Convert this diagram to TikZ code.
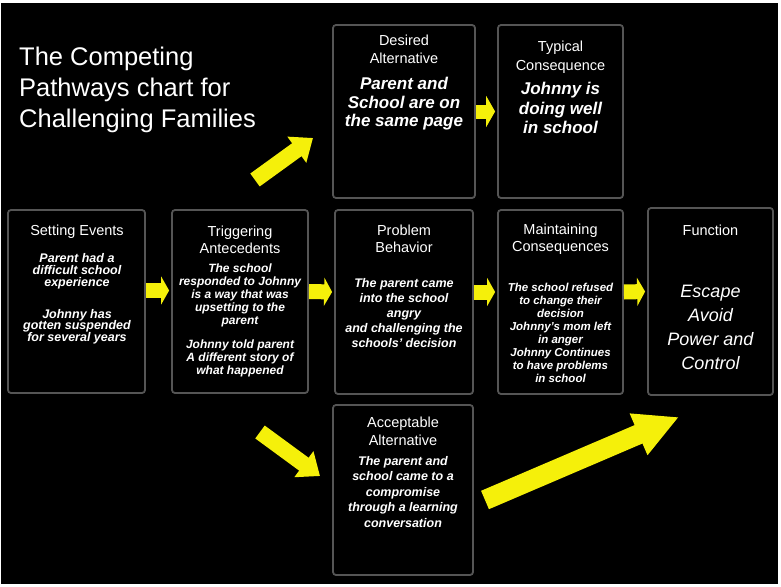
\documentclass[tikz,border=0pt]{standalone}
\usepackage{fontspec}
\setmainfont{Liberation Sans}
\usetikzlibrary{arrows.meta}
\definecolor{boxgray}{RGB}{85,85,85}
\definecolor{arrowyellow}{RGB}{245,240,10}

\begin{document}
\begin{tikzpicture}[x=1pt,y=-1pt,
    box/.style={draw=boxgray, line width=1.8pt, rounded corners=3pt, fill=black, inner sep=0pt},
    head/.style={text=white, align=center, inner sep=0pt, font=\fontsize{14.5}{17}\selectfont},
    body/.style={text=white, align=center, inner sep=0pt, font=\fontsize{12}{13}\selectfont\bfseries\itshape},
    fat/.style={arrowyellow, line width=15pt, -{Triangle[length=8pt,width=28pt]}, shorten >=2pt},
    slant/.style={arrowyellow, line width=16pt, -{Triangle[length=20pt,width=31pt]}}]

    % frame
    \fill[white] (0,0) rectangle (781,586);
    \fill[black] (1,3) rectangle (778,584);

    \node[text=white, align=left, anchor=north west, inner sep=0pt,
          font=\fontsize{25.5}{31}\selectfont] (title) at (19,47)
          {The Competing\\Pathways chart for\\Challenging Families};

    % middle row
    \node[box, minimum width=137pt, minimum height=183pt] (se) at (76.5,301.5) {};
    \node[box, minimum width=136pt, minimum height=183pt] (ta) at (240,301.5) {};
    \node[box, minimum width=138pt, minimum height=184pt] (pb) at (404,302) {};
    \node[box, minimum width=125pt, minimum height=184pt] (mc) at (560.5,302) {};
    \node[box, minimum width=125pt, minimum height=187pt] (fn) at (710.5,301.5) {};

    % top and bottom
    \node[box, minimum width=142pt, minimum height=173pt] (da) at (404,111.5) {};
    \node[box, minimum width=125pt, minimum height=173pt] (tc) at (560.5,111.5) {};
    \node[box, minimum width=140pt, minimum height=170pt] (aa) at (403,490) {};

    \node[head] (se-h) at (77,232) {Setting Events};
    \node[body, font=\fontsize{12.5}{11.7}\selectfont\bfseries\itshape] (se-b) at (77,299)
        {Parent had a\\difficult school\\experience\\[20pt]Johnny has\\gotten suspended\\for several years};

    \node[head] (ta-h) at (240,240) {Triggering\\Antecedents};
    \node[body] (ta-b) at (240,320)
        {The school\\responded to Johnny\\is a way that was\\upsetting to the\\parent\\[11pt]Johnny told parent\\A different story of\\what happened};

    \node[head] (pb-h) at (404,239) {Problem\\Behavior};
    \node[body, font=\fontsize{12.5}{15}\selectfont\bfseries\itshape] (pb-b) at (404,313)
        {The parent came\\into the school\\angry\\and challenging the\\schools' decision};

    \node[head] (mc-h) at (560.5,239) {Maintaining\\Consequences};
    \node[body, font=\fontsize{11.5}{13}\selectfont\bfseries\itshape] (mc-b) at (560.5,333)
        {The school refused\\to change their\\decision\\Johnny's mom left\\in anger\\Johnny Continues\\to have problems\\in school};

    \node[head] (fn-h) at (710.5,230) {Function};
    \node[body, font=\fontsize{18}{24}\selectfont\itshape] (fn-b) at (710.5,327)
        {Escape\\Avoid\\Power and\\Control};

    \node[head, font=\fontsize{14.5}{18}\selectfont] (da-h) at (404,49) {Desired\\Alternative};
    \node[body, font=\fontsize{17}{18.5}\selectfont\bfseries\itshape] (da-b) at (404,104)
        {Parent and\\School are on\\the same page};

    \node[head, font=\fontsize{14.5}{19}\selectfont] (tc-h) at (560.5,57.5) {Typical\\Consequence};
    \node[body, font=\fontsize{17}{19.5}\selectfont\bfseries\itshape] (tc-b) at (560.5,108)
        {Johnny is\\doing well\\in school};

    \node[head, font=\fontsize{14.5}{18}\selectfont] (aa-h) at (403,431) {Acceptable\\Alternative};
    \node[body, font=\fontsize{12.5}{15.5}\selectfont\bfseries\itshape] (aa-b) at (403,492)
        {The parent and\\school came to a\\compromise\\through a learning\\conversation};

    % block arrows along the row
    \draw[fat] ([yshift=11pt]se.east) -- ([yshift=11pt]ta.west);
    \draw[fat] ([yshift=10pt]ta.east) -- ([yshift=10pt]pb.west);
    \draw[fat] ([yshift=10pt]pb.east) -- ([yshift=10pt]mc.west);
    \draw[fat] ([yshift=10pt]mc.east) -- ([yshift=10pt]fn.west);
    \draw[fat, line width=14pt, -{Triangle[length=9pt,width=31pt]}] (da.east) -- (tc.west);

    % slanted arrows
    \coordinate (up-a) at (255,180);
    \coordinate (up-b) at (313,138);
    \coordinate (dn-a) at (260,432);
    \coordinate (dn-b) at (320,476);
    \coordinate (aa-out) at (485,500);
    \coordinate (fn-in) at (679,417);
    \draw[slant] (up-a) -- (up-b);
    \draw[slant] (dn-a) -- (dn-b);
    \draw[slant, line width=20pt, -{Triangle[length=44pt,width=42pt]}] (aa-out) -- (fn-in);

\end{tikzpicture}
\end{document}
